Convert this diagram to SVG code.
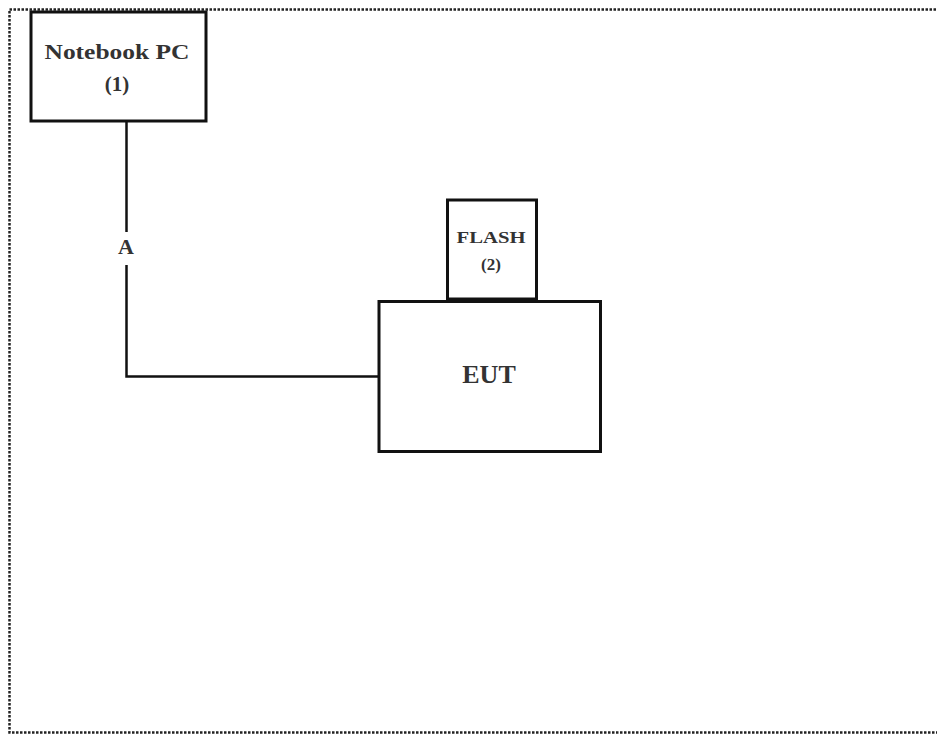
<svg xmlns="http://www.w3.org/2000/svg" width="937" height="735" viewBox="0 0 937 735">
<style>
.box{fill:#fff;stroke:#111;stroke-width:3}
.wire{fill:none;stroke:#111;stroke-width:2.5}
.t{font-family:"Liberation Serif","Times New Roman",serif;font-weight:bold;fill:#333;text-anchor:middle}
</style>
<rect x="0" y="0" width="937" height="735" fill="#fff"/>
<rect id="frame" x="9.5" y="9.5" width="935" height="723" fill="none" stroke="#222" stroke-width="2.5" stroke-dasharray="2.5 1.5"/>
<g id="connectors">
<polyline class="wire" points="126.5,121 126.5,232"/>
<polyline class="wire" points="126.5,265 126.5,376.5 379,376.5"/>
<text class="t" x="126" y="254" font-size="22">A</text>
</g>
<g id="notebook">
<rect class="box" x="31" y="12" width="175" height="109"/>
<text class="t" x="117" y="59" font-size="22" textLength="145" lengthAdjust="spacingAndGlyphs">Notebook PC</text>
<text class="t" x="117" y="91" font-size="21">(1)</text>
</g>
<g id="flash">
<rect class="box" x="447.5" y="200" width="89" height="99"/>
<text class="t" x="491" y="243" font-size="17" textLength="69" lengthAdjust="spacingAndGlyphs">FLASH</text>
<text class="t" x="491" y="270" font-size="17">(2)</text>
</g>
<g id="eut">
<rect class="box" x="379" y="301.5" width="221.5" height="150"/>
<text class="t" x="489" y="383" font-size="26">EUT</text>
</g>
</svg>
